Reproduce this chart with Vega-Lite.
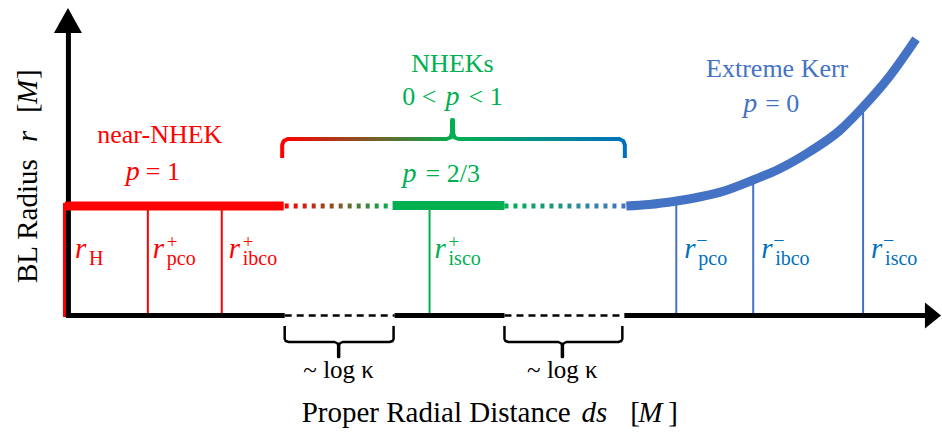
{
  "$schema": "https://vega.github.io/schema/vega-lite/v6.json",
  "width": 942,
  "height": 439,
  "padding": 0,
  "autosize": {"type": "fit", "contains": "padding"},
  "background": "white",
  "config": {"view": {"stroke": null}},
  "datasets": {
    "redEdge": [{"x": -0.25, "y": -0.1, "x2": -0.25, "y2": 11.3}],
    "thinV": [
      {"x": 8.0, "y": 0, "x2": 8.0, "y2": 11, "series": "near-NHEK"},
      {"x": 15.4, "y": 0, "x2": 15.4, "y2": 11, "series": "near-NHEK"},
      {"x": 36.2, "y": 0, "x2": 36.2, "y2": 11, "series": "NHEKs"},
      {"x": 60.9, "y": 0, "x2": 60.9, "y2": 11.3, "series": "Kerr"},
      {"x": 68.6, "y": 0, "x2": 68.6, "y2": 13.4, "series": "Kerr"},
      {"x": 79.6, "y": 0, "x2": 79.6, "y2": 20.7, "series": "Kerr"}
    ],
    "axes": [
      {"x": 0.05, "y": -0.2, "x2": 0.05, "y2": 28.6},
      {"x": -0.2, "y": 0.05, "x2": 21.7, "y2": 0.05},
      {"x": 32.7, "y": 0.05, "x2": 43.7, "y2": 0.05},
      {"x": 55.7, "y": 0.05, "x2": 86.0, "y2": 0.05}
    ],
    "gaps": [
      {"x": 21.7, "y": 0.05, "x2": 32.7, "y2": 0.05},
      {"x": 43.7, "y": 0.05, "x2": 55.7, "y2": 0.05}
    ],
    "thickH": [
      {"x": -0.3, "y": 11.0, "x2": 21.6, "y2": 11.0, "series": "near-NHEK"},
      {"x": 32.5, "y": 11.05, "x2": 43.7, "y2": 11.05, "series": "NHEKs"}
    ],
    "dotL": [{"x": 21.7, "y": 11.0}, {"x": 32.5, "y": 10.99}],
    "dotR": [{"x": 43.7, "y": 11.0}, {"x": 55.9, "y": 10.99}],
    "kerr": [
      {"x": 55.9, "y": 11.0}, {"x": 58.2, "y": 11.15}, {"x": 60.9, "y": 11.5},
      {"x": 63.2, "y": 11.9}, {"x": 65.7, "y": 12.5}, {"x": 68.6, "y": 13.6},
      {"x": 71.2, "y": 14.7}, {"x": 74.2, "y": 16.4}, {"x": 77.2, "y": 18.5},
      {"x": 79.6, "y": 20.9}, {"x": 82.2, "y": 23.9}, {"x": 84.9, "y": 27.7}
    ],
    "braceTop": [
      {"i": 1, "x": 21.45, "y": 15.8}, {"i": 2, "x": 21.45, "y": 17.1},
      {"i": 3, "x": 21.6, "y": 17.5}, {"i": 4, "x": 22.0, "y": 17.7},
      {"i": 5, "x": 37.9, "y": 17.7}, {"i": 6, "x": 38.3, "y": 17.85},
      {"i": 7, "x": 38.45, "y": 18.3}, {"i": 8, "x": 38.45, "y": 19.6},
      {"i": 9, "x": 38.55, "y": 19.6}, {"i": 10, "x": 38.55, "y": 18.3},
      {"i": 11, "x": 38.7, "y": 17.85}, {"i": 12, "x": 39.1, "y": 17.7},
      {"i": 13, "x": 55.2, "y": 17.7}, {"i": 14, "x": 55.6, "y": 17.5},
      {"i": 15, "x": 55.75, "y": 17.1}, {"i": 16, "x": 55.75, "y": 15.8}
    ],
    "braceBottom": [
      {"b": 1, "i": 1, "x": 21.7, "y": -1.0}, {"b": 1, "i": 2, "x": 21.7, "y": -2.3},
      {"b": 1, "i": 3, "x": 21.8, "y": -2.5}, {"b": 1, "i": 4, "x": 22.1, "y": -2.6},
      {"b": 1, "i": 5, "x": 26.7, "y": -2.6}, {"b": 1, "i": 6, "x": 27.0, "y": -2.75},
      {"b": 1, "i": 7, "x": 27.05, "y": -2.9}, {"b": 1, "i": 8, "x": 27.05, "y": -4.1},
      {"b": 1, "i": 9, "x": 27.15, "y": -4.1}, {"b": 1, "i": 10, "x": 27.15, "y": -2.9},
      {"b": 1, "i": 11, "x": 27.2, "y": -2.75}, {"b": 1, "i": 12, "x": 27.5, "y": -2.6},
      {"b": 1, "i": 13, "x": 32.2, "y": -2.6}, {"b": 1, "i": 14, "x": 32.5, "y": -2.5},
      {"b": 1, "i": 15, "x": 32.6, "y": -2.3}, {"b": 1, "i": 16, "x": 32.6, "y": -1.0},
      {"b": 2, "i": 1, "x": 43.7, "y": -1.0}, {"b": 2, "i": 2, "x": 43.7, "y": -2.3},
      {"b": 2, "i": 3, "x": 43.8, "y": -2.5}, {"b": 2, "i": 4, "x": 44.1, "y": -2.6},
      {"b": 2, "i": 5, "x": 49.1, "y": -2.6}, {"b": 2, "i": 6, "x": 49.4, "y": -2.75},
      {"b": 2, "i": 7, "x": 49.45, "y": -2.9}, {"b": 2, "i": 8, "x": 49.45, "y": -4.1},
      {"b": 2, "i": 9, "x": 49.55, "y": -4.1}, {"b": 2, "i": 10, "x": 49.55, "y": -2.9},
      {"b": 2, "i": 11, "x": 49.6, "y": -2.75}, {"b": 2, "i": 12, "x": 49.9, "y": -2.6},
      {"b": 2, "i": 13, "x": 55.1, "y": -2.6}, {"b": 2, "i": 14, "x": 55.4, "y": -2.5},
      {"b": 2, "i": 15, "x": 55.5, "y": -2.3}, {"b": 2, "i": 16, "x": 55.5, "y": -1.0}
    ],
    "arrowUp": [{"x": 0.0, "y": 29.55}],
    "arrowRight": [{"x": 86.6, "y": 0.05}],
    "names": [
      {"x": 9.2, "y": 17.3, "t": "near-NHEK", "series": "near-NHEK"},
      {"x": 38.5, "y": 24.4, "t": "NHEKs", "series": "NHEKs"},
      {"x": 71.0, "y": 23.9, "t": "Extreme Kerr", "series": "Kerr"}
    ],
    "mathRight": [{"x": 36.9, "y": 21.1, "t": "0 <", "series": "NHEKs"}],
    "mathLeft": [
      {"x": 7.8, "y": 13.6, "t": "= 1", "series": "near-NHEK"},
      {"x": 40.1, "y": 21.1, "t": "< 1", "series": "NHEKs"},
      {"x": 35.8, "y": 13.4, "t": "= 2/3", "series": "NHEKs"},
      {"x": 69.8, "y": 20.4, "t": "= 0", "series": "Kerr"}
    ],
    "mathP": [
      {"x": 7.2, "y": 13.6, "t": "p", "series": "near-NHEK"},
      {"x": 39.2, "y": 21.1, "t": "p", "series": "NHEKs"},
      {"x": 34.9, "y": 13.4, "t": "p", "series": "NHEKs"},
      {"x": 69.0, "y": 20.4, "t": "p", "series": "Kerr"}
    ],
    "radii": [
      {"x": 0.7, "y": 5.8, "sub": "H", "sup": "", "series": "near-NHEK"},
      {"x": 8.5, "y": 5.8, "sub": "pco", "sup": "+", "series": "near-NHEK"},
      {"x": 16.1, "y": 5.8, "sub": "ibco", "sup": "+", "series": "near-NHEK"},
      {"x": 36.7, "y": 5.8, "sub": "isco", "sup": "+", "series": "NHEKs"},
      {"x": 61.7, "y": 5.8, "sub": "pco", "sup": "−", "series": "KerrLabel"},
      {"x": 69.4, "y": 5.8, "sub": "ibco", "sup": "−", "series": "KerrLabel"},
      {"x": 80.4, "y": 5.8, "sub": "isco", "sup": "−", "series": "KerrLabel"}
    ],
    "logk": [
      {"x": 27.1, "y": -6.2, "t": "~ log κ"},
      {"x": 49.5, "y": -6.2, "t": "~ log κ"}
    ],
    "xTitleRoman": [
      {"x": 23.4, "y": -10.6, "t": "Proper Radial Distance"},
      {"x": 56.3, "y": -10.6, "t": "["},
      {"x": 60.1, "y": -10.6, "t": "]"}
    ],
    "xTitleItalic": [
      {"x": 51.4, "y": -10.6, "t": "ds"},
      {"x": 57.1, "y": -10.6, "t": "M"}
    ],
    "yTitleRoman": [
      {"x": -3.1, "y": 3.3, "t": "BL Radius"},
      {"x": -3.1, "y": 20.3, "t": "["},
      {"x": -3.1, "y": 23.7, "t": "]"}
    ],
    "yTitleItalic": [
      {"x": -3.1, "y": 17.4, "t": "r"},
      {"x": -3.1, "y": 21.2, "t": "M"}
    ]
  },
  "encoding": {
    "x": {"field": "x", "type": "quantitative", "scale": {"domain": [-6.8, 87.4], "nice": false, "zero": false}, "axis": null},
    "y": {"field": "y", "type": "quantitative", "scale": {"domain": [-12.3, 31.6], "nice": false, "zero": false}, "axis": null}
  },
  "layer": [
    {
      "data": {"name": "redEdge"},
      "mark": {"type": "rule", "color": "#ff0000", "strokeWidth": 5},
      "encoding": {"x2": {"field": "x2"}, "y2": {"field": "y2"}}
    },
    {
      "data": {"name": "thinV"},
      "mark": {"type": "rule", "strokeWidth": 2},
      "encoding": {
        "x2": {"field": "x2"}, "y2": {"field": "y2"},
        "color": {"field": "series", "type": "nominal", "legend": null,
          "scale": {"domain": ["near-NHEK", "NHEKs", "Kerr", "KerrLabel"], "range": ["#ff0000", "#00b050", "#4472c4", "#0070c0"]}}
      }
    },
    {
      "data": {"name": "axes"},
      "mark": {"type": "rule", "color": "black", "strokeWidth": 5},
      "encoding": {"x2": {"field": "x2"}, "y2": {"field": "y2"}}
    },
    {
      "data": {"name": "gaps"},
      "mark": {"type": "rule", "color": "black", "strokeWidth": 2.5, "strokeDash": [7, 5]},
      "encoding": {"x2": {"field": "x2"}, "y2": {"field": "y2"}}
    },
    {
      "data": {"name": "thickH"},
      "mark": {"type": "rule", "strokeWidth": 9},
      "encoding": {
        "x2": {"field": "x2"}, "y2": {"field": "y2"},
        "color": {"field": "series", "type": "nominal", "legend": null,
          "scale": {"domain": ["near-NHEK", "NHEKs", "Kerr", "KerrLabel"], "range": ["#ff0000", "#00b050", "#4472c4", "#0070c0"]}}
      }
    },
    {
      "data": {"name": "dotL"},
      "mark": {"type": "line", "strokeWidth": 5, "strokeDash": [4, 5], "strokeCap": "butt",
        "stroke": {"gradient": "linear", "x1": 0, "y1": 0, "x2": 1, "y2": 0,
          "stops": [{"offset": 0, "color": "#ff0000"}, {"offset": 1, "color": "#00b050"}]}},
      "encoding": {}
    },
    {
      "data": {"name": "dotR"},
      "mark": {"type": "line", "strokeWidth": 5, "strokeDash": [4, 5], "strokeCap": "butt",
        "stroke": {"gradient": "linear", "x1": 0, "y1": 0, "x2": 1, "y2": 0,
          "stops": [{"offset": 0, "color": "#00b050"}, {"offset": 1, "color": "#4472c4"}]}},
      "encoding": {}
    },
    {
      "data": {"name": "kerr"},
      "mark": {"type": "line", "strokeWidth": 9, "color": "#4472c4", "interpolate": "monotone", "strokeCap": "butt"},
      "encoding": {}
    },
    {
      "data": {"name": "braceTop"},
      "mark": {"type": "line", "strokeWidth": 4, "strokeJoin": "round",
        "stroke": {"gradient": "linear", "x1": 0, "y1": 0, "x2": 1, "y2": 0,
          "stops": [{"offset": 0, "color": "#ff0000"}, {"offset": 0.5, "color": "#00b050"}, {"offset": 1, "color": "#0070c0"}]}},
      "encoding": {"order": {"field": "i", "type": "quantitative"}}
    },
    {
      "data": {"name": "braceBottom"},
      "mark": {"type": "line", "strokeWidth": 2.5, "color": "black", "strokeJoin": "round"},
      "encoding": {"order": {"field": "i", "type": "quantitative"}, "detail": {"field": "b", "type": "nominal"}}
    },
    {
      "data": {"name": "arrowUp"},
      "mark": {"type": "point", "shape": "M0,-0.9L1,0.9L-1,0.9Z", "size": 784, "filled": true, "color": "black", "opacity": 1, "strokeWidth": 0},
      "encoding": {}
    },
    {
      "data": {"name": "arrowRight"},
      "mark": {"type": "point", "shape": "M0.62,0L-0.62,-1L-0.62,1Z", "size": 676, "filled": true, "color": "black", "opacity": 1, "strokeWidth": 0},
      "encoding": {}
    },
    {
      "data": {"name": "names"},
      "mark": {"type": "text", "font": "Liberation Serif", "fontSize": 26, "align": "center", "baseline": "alphabetic"},
      "encoding": {
        "text": {"field": "t"},
        "color": {"field": "series", "type": "nominal", "legend": null,
          "scale": {"domain": ["near-NHEK", "NHEKs", "Kerr", "KerrLabel"], "range": ["#ff0000", "#00b050", "#4472c4", "#0070c0"]}}
      }
    },
    {
      "data": {"name": "mathRight"},
      "mark": {"type": "text", "font": "Liberation Serif", "fontSize": 26, "align": "right", "baseline": "alphabetic"},
      "encoding": {
        "text": {"field": "t"},
        "color": {"field": "series", "type": "nominal", "legend": null,
          "scale": {"domain": ["near-NHEK", "NHEKs", "Kerr", "KerrLabel"], "range": ["#ff0000", "#00b050", "#4472c4", "#0070c0"]}}
      }
    },
    {
      "data": {"name": "mathLeft"},
      "mark": {"type": "text", "font": "Liberation Serif", "fontSize": 26, "align": "left", "baseline": "alphabetic"},
      "encoding": {
        "text": {"field": "t"},
        "color": {"field": "series", "type": "nominal", "legend": null,
          "scale": {"domain": ["near-NHEK", "NHEKs", "Kerr", "KerrLabel"], "range": ["#ff0000", "#00b050", "#4472c4", "#0070c0"]}}
      }
    },
    {
      "data": {"name": "mathP"},
      "mark": {"type": "text", "font": "Liberation Serif", "fontStyle": "italic", "fontSize": 28, "align": "right", "baseline": "alphabetic"},
      "encoding": {
        "text": {"field": "t"},
        "color": {"field": "series", "type": "nominal", "legend": null,
          "scale": {"domain": ["near-NHEK", "NHEKs", "Kerr", "KerrLabel"], "range": ["#ff0000", "#00b050", "#4472c4", "#0070c0"]}}
      }
    },
    {
      "data": {"name": "radii"},
      "mark": {"type": "text", "font": "Liberation Serif", "fontStyle": "italic", "fontSize": 29, "align": "left", "baseline": "alphabetic"},
      "encoding": {
        "text": {"value": "r"},
        "color": {"field": "series", "type": "nominal", "legend": null,
          "scale": {"domain": ["near-NHEK", "NHEKs", "Kerr", "KerrLabel"], "range": ["#ff0000", "#00b050", "#4472c4", "#0070c0"]}}
      }
    },
    {
      "data": {"name": "radii"},
      "mark": {"type": "text", "font": "Liberation Serif", "fontSize": 20, "align": "left", "baseline": "alphabetic", "dx": 14, "dy": 7},
      "encoding": {
        "text": {"field": "sub"},
        "color": {"field": "series", "type": "nominal", "legend": null,
          "scale": {"domain": ["near-NHEK", "NHEKs", "Kerr", "KerrLabel"], "range": ["#ff0000", "#00b050", "#4472c4", "#0070c0"]}}
      }
    },
    {
      "data": {"name": "radii"},
      "transform": [{"filter": "datum.sup === '+'"}],
      "mark": {"type": "text", "font": "Liberation Serif", "fontSize": 19, "align": "left", "baseline": "alphabetic", "dx": 14, "dy": -10},
      "encoding": {
        "text": {"field": "sup"},
        "color": {"field": "series", "type": "nominal", "legend": null,
          "scale": {"domain": ["near-NHEK", "NHEKs", "Kerr", "KerrLabel"], "range": ["#ff0000", "#00b050", "#4472c4", "#0070c0"]}}
      }
    },
    {
      "data": {"name": "radii"},
      "transform": [{"filter": "datum.sup === '−'"}],
      "mark": {"type": "text", "font": "Liberation Serif", "fontSize": 20, "align": "left", "baseline": "alphabetic", "dx": 12, "dy": -11},
      "encoding": {
        "text": {"field": "sup"},
        "color": {"field": "series", "type": "nominal", "legend": null,
          "scale": {"domain": ["near-NHEK", "NHEKs", "Kerr", "KerrLabel"], "range": ["#ff0000", "#00b050", "#4472c4", "#0070c0"]}}
      }
    },
    {
      "data": {"name": "logk"},
      "mark": {"type": "text", "font": "Liberation Serif", "fontSize": 25, "align": "center", "baseline": "alphabetic", "color": "black"},
      "encoding": {"text": {"field": "t"}}
    },
    {
      "data": {"name": "xTitleRoman"},
      "mark": {"type": "text", "font": "Liberation Serif", "fontSize": 29, "align": "left", "baseline": "alphabetic", "color": "black"},
      "encoding": {"text": {"field": "t"}}
    },
    {
      "data": {"name": "xTitleItalic"},
      "mark": {"type": "text", "font": "Liberation Serif", "fontStyle": "italic", "fontSize": 29, "align": "left", "baseline": "alphabetic", "color": "black"},
      "encoding": {"text": {"field": "t"}}
    },
    {
      "data": {"name": "yTitleRoman"},
      "mark": {"type": "text", "font": "Liberation Serif", "fontSize": 29, "align": "left", "baseline": "alphabetic", "angle": 270, "color": "black"},
      "encoding": {"text": {"field": "t"}}
    },
    {
      "data": {"name": "yTitleItalic"},
      "mark": {"type": "text", "font": "Liberation Serif", "fontStyle": "italic", "fontSize": 29, "align": "left", "baseline": "alphabetic", "angle": 270, "color": "black"},
      "encoding": {"text": {"field": "t"}}
    }
  ]
}
